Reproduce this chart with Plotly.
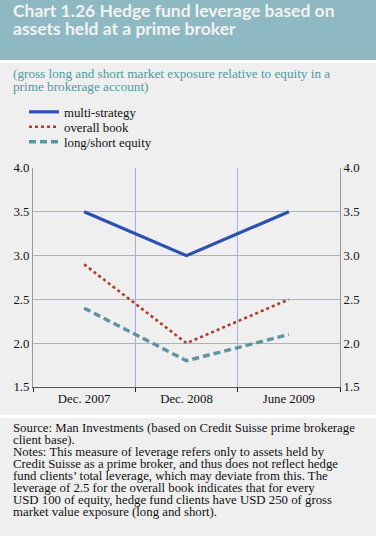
import plotly.graph_objects as go

W, H = 376, 536

categories = ["Dec. 2007", "Dec. 2008", "June 2009"]
multi_strategy = [3.5, 3.0, 3.5]
overall_book = [2.9, 2.0, 2.5]
long_short_equity = [2.4, 1.8, 2.1]
y_ticks = [1.5, 2.0, 2.5, 3.0, 3.5, 4.0]

title_lines = ["Chart 1.26 Hedge fund leverage based on", "assets held at a prime broker"]
subtitle_lines = ["(gross long and short market exposure relative to equity in a",
                  "prime brokerage account)"]
note_lines = [
    "Source: Man Investments (based on Credit Suisse prime brokerage",
    "client base).",
    "Notes: This measure of leverage refers only to assets held by",
    "Credit Suisse as a prime broker, and thus does not reflect hedge",
    "fund clients\u2019 total leverage, which may deviate from this. The",
    "leverage of 2.5 for the overall book indicates that for every",
    "USD 100 of equity, hedge fund clients have USD 250 of gross",
    "market value exposure (long and short).",
]

BG = "#EFEFEF"
HEADER = "#8EB9C2"
GRID = "#A8AEE4"
SERIF = "Liberation Serif, Times New Roman, serif"


def px(x):
    return x / W


def py(y):
    return 1 - y / H


fig = go.Figure()
fig.add_trace(go.Scatter(x=categories, y=multi_strategy, name="multi-strategy", mode="lines",
                         line=dict(color="#2C4FB2", width=3.2), legend="legend"))
fig.add_trace(go.Scatter(x=categories, y=overall_book, name="overall book", mode="lines",
                         line=dict(color="#B23A2C", width=2.6, dash="dot"), legend="legend2"))
fig.add_trace(go.Scatter(x=categories, y=long_short_equity, name="long/short equity", mode="lines",
                         line=dict(color="#5E94A2", width=3.4, dash="7px,4px"), legend="legend3"))
# helper trace for right-hand axis
fig.add_trace(go.Scatter(x=categories, y=[None] * 3, yaxis="y2", showlegend=False,
                         hoverinfo="skip", mode="lines"))

shapes = [
    dict(type="rect", xref="paper", yref="paper", x0=0, x1=1, y0=py(60), y1=1,
         fillcolor=HEADER, line_width=0, layer="below"),
    dict(type="rect", xref="paper", yref="paper", x0=0, x1=1, y0=py(62.5), y1=py(60),
         fillcolor="white", line_width=0, layer="below"),
    dict(type="rect", xref="paper", yref="paper", x0=0, x1=1, y0=py(418), y1=py(415),
         fillcolor="white", line_width=0, layer="below"),
]

annotations = []
for i, t in enumerate(title_lines):
    annotations.append(dict(text=t, xref="paper", yref="paper", x=px(11), y=py(10.5 + i * 17.5),
                            xanchor="left", yanchor="middle", showarrow=False,
                            font=dict(family="Lato, sans-serif", size=17.5, color="#F2F2F2",
                                      weight="bold")))
for i, t in enumerate(subtitle_lines):
    annotations.append(dict(text=t, xref="paper", yref="paper", x=px(11), y=py(73.5 + i * 13),
                            xanchor="left", yanchor="middle", showarrow=False,
                            font=dict(family=SERIF, size=13.2, color="#4E9AA2")))
for i, t in enumerate(note_lines):
    annotations.append(dict(text=t, xref="paper", yref="paper", x=px(11), y=py(428 + i * 12),
                            xanchor="left", yanchor="middle", showarrow=False,
                            font=dict(family=SERIF, size=12.8, color="#111111")))

legend_common = dict(x=px(24), xanchor="left", yanchor="middle", bgcolor="rgba(0,0,0,0)",
                     font=dict(family=SERIF, size=12.8, color="#111111"), itemwidth=30)

fig.update_layout(
    width=W, height=H,
    margin=dict(l=0, r=0, t=0, b=0, autoexpand=False),
    paper_bgcolor=BG, plot_bgcolor=BG,
    showlegend=True,
    legend=dict(y=py(112), **legend_common),
    legend2=dict(y=py(127), **legend_common),
    legend3=dict(y=py(142), **legend_common),
    xaxis=dict(domain=[px(33), px(340)], type="category", tickson="boundaries",
               range=[-0.5, 2.5], automargin=False,
               showgrid=True, gridcolor=GRID, gridwidth=1,
               showline=True, linecolor="#555555", linewidth=1,
               ticks="outside", ticklen=4, tickcolor="#222222",
               tickfont=dict(family=SERIF, size=12.8, color="#111111"),
               fixedrange=True),
    yaxis=dict(domain=[py(387), py(168)], range=[1.5, 4.0], tickvals=y_ticks,
               tickformat=".1f", showgrid=True, gridcolor=GRID, gridwidth=1,
               zeroline=False, showline=True, linecolor="#9A9A9A", linewidth=1,
               ticks="", automargin=False,
               tickfont=dict(family=SERIF, size=12.8, color="#111111"),
               fixedrange=True),
    yaxis2=dict(overlaying="y", side="right", range=[1.5, 4.0], tickvals=y_ticks,
                tickformat=".1f", showgrid=False, zeroline=False, showline=True,
                linecolor="#9A9A9A", linewidth=1, ticks="", automargin=False,
                tickfont=dict(family=SERIF, size=12.8, color="#111111"), fixedrange=True),
    shapes=shapes,
    annotations=annotations,
)

fig.write_html("out.html", config={"displayModeBar": False},
               post_script="document.body.style.margin='0';document.body.style.overflow='hidden';")
